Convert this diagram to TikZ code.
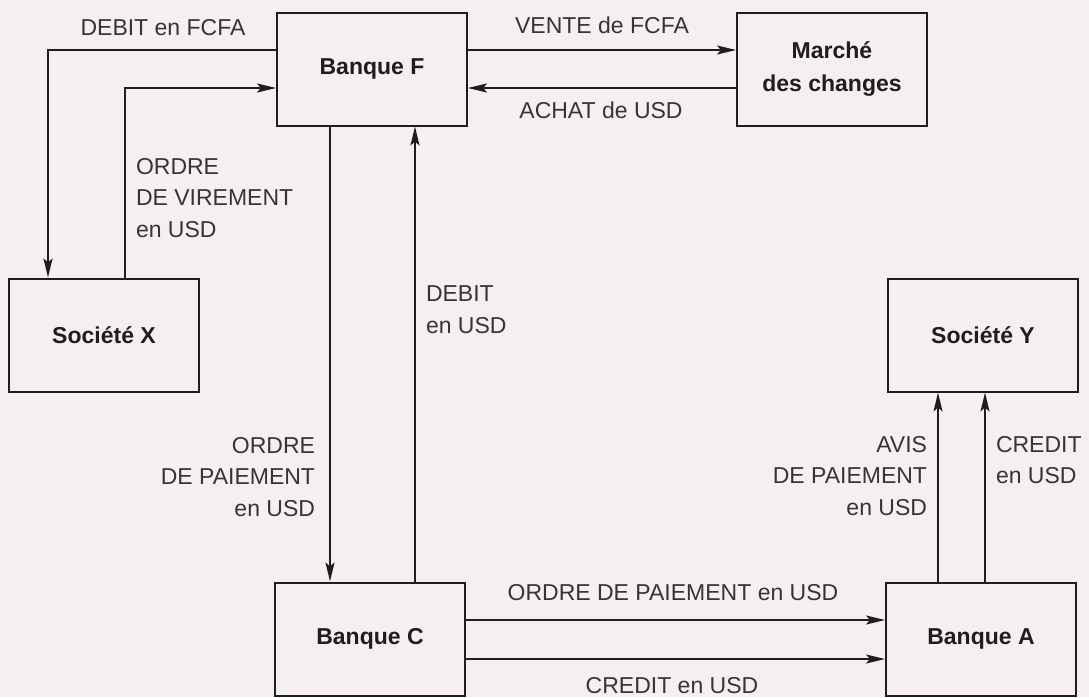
\documentclass[tikz,border=0pt]{standalone}
\usepackage{fontspec}
\setmainfont{Liberation Sans}
\usetikzlibrary{arrows.meta,positioning,calc}
\definecolor{paper}{RGB}{245,238,242}
\definecolor{ink}{RGB}{30,30,30}
\tikzset{every picture/.style={line width=2pt}}
\tikzset{
  box/.style={draw=ink,rectangle,minimum width=190pt,minimum height=113pt,
    font=\fontsize{23}{33}\selectfont\bfseries,align=center,text=ink},
  flow/.style={draw=ink,-{Stealth[length=19pt,width=9pt,inset=4pt]}},
  lbl/.style={inner sep=0pt,text=ink!90,font=\fontsize{23}{31.5}\selectfont},
}

\begin{document}
\begin{tikzpicture}[x=1pt,y=-1pt]
    % Background
    \fill[paper] (0,0) rectangle (1089,697);
    \useasboundingbox (0,0) rectangle (1089,697);

    % Boxes
    \node[box] (bqF) at (372,69) {Banque F};
    \node[box] (mch) at (832,69) {Marché\\des changes};
    \node[box] (socX) at (104,335) {Société X};
    \node[box] (socY) at (983,335) {Société Y};
    \node[box] (bqC) at (370,639) {Banque C};
    \node[box] (bqA) at (981,639) {Banque A};

    % Banque F <-> Société X
    \draw[flow] ([yshift=19pt]bqF.west) -| ([xshift=-56pt]socX.north);
    \draw[flow] ([xshift=21pt]socX.north) |- ([yshift=-19pt]bqF.west);
    \node[lbl,anchor=base] (debF) at (163,35) {DEBIT en FCFA};
    \node[lbl,anchor=north west,align=left] (ordV) at (135,157) {ORDRE\\DE VIREMENT\\en USD};

    % Banque F <-> Marché des changes
    \draw[flow] ([yshift=19pt]bqF.east) -- ([yshift=19pt]mch.west);
    \draw[flow] ([yshift=-19pt]mch.west) -- ([yshift=-19pt]bqF.east);
    \node[lbl,anchor=base] (vente) at (602,33) {VENTE de FCFA};
    \node[lbl,anchor=base] (achat) at (601,118) {ACHAT de USD};

    % Banque F <-> Banque C
    \draw[flow] ([xshift=-42pt]bqF.south) -- ([xshift=-42pt]bqF.south |- bqC.north);
    \draw[flow] ([xshift=45pt]bqC.north) -- ([xshift=45pt]bqC.north |- bqF.south);
    \node[lbl,anchor=north east,align=right] (ordP) at (316,436) {ORDRE\\DE PAIEMENT\\en USD};
    \node[lbl,anchor=north west,align=left] (debU) at (425,285) {DEBIT\\en USD};

    % Banque C -> Banque A
    \draw[flow] ([yshift=19pt]bqC.east) -- ([yshift=19pt]bqC.east -| bqA.west);
    \draw[flow] ([yshift=-20pt]bqC.east) -- ([yshift=-20pt]bqC.east -| bqA.west);
    \node[lbl,anchor=base] (ordCA) at (673,600) {ORDRE DE PAIEMENT en USD};
    \node[lbl,anchor=base] (creCA) at (672,693) {CREDIT en USD};

    % Banque A -> Société Y
    \draw[flow] ([xshift=-43pt]bqA.north) -- ([xshift=-43pt]bqA.north |- socY.south);
    \draw[flow] ([xshift=4pt]bqA.north) -- ([xshift=4pt]bqA.north |- socY.south);
    \node[lbl,anchor=north east,align=right] (avis) at (928,435) {AVIS\\DE PAIEMENT\\en USD};
    \node[lbl,anchor=north west,align=left] (creY) at (995,435) {CREDIT\\en USD};
\end{tikzpicture}
\end{document}
